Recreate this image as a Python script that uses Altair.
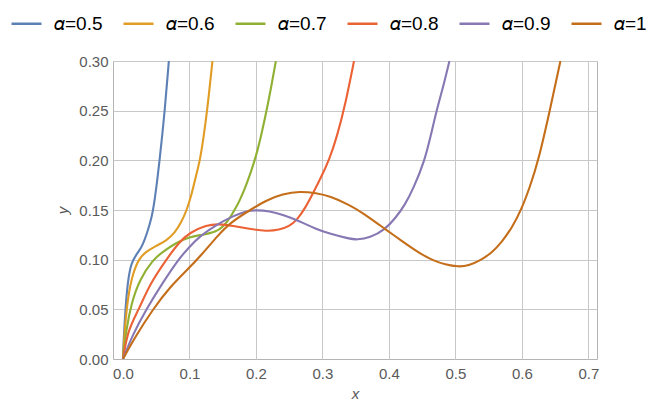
import altair as alt
import pandas as pd

labels = ["𝛼=0.5", "𝛼=0.6", "𝛼=0.7", "𝛼=0.8", "𝛼=0.9", "𝛼=1"]
colors = ["#5E81B5", "#E19C24", "#8FB032", "#EB6235", "#8778B3", "#C56E1A"]

x05 = [0, 0.001, 0.0036, 0.0075, 0.0126, 0.020, 0.0277, 0.0327, 0.0377, 0.043, 0.0475, 0.055, 0.0628, 0.069]
y05 = [0, 0.019, 0.050, 0.080, 0.097, 0.105, 0.112, 0.120, 0.130, 0.142, 0.158, 0.199, 0.249, 0.300]

x06 = [0, 0.0026, 0.0075, 0.015, 0.025, 0.035, 0.050, 0.065, 0.078, 0.088, 0.096, 0.103, 0.110, 0.1155, 0.121, 0.1265, 0.1346]
y06 = [0, 0.030, 0.063, 0.087, 0.102, 0.108, 0.114, 0.119, 0.127, 0.138, 0.150, 0.165, 0.185, 0.199, 0.222, 0.249, 0.300]

x07 = [0, 0.005, 0.0126, 0.025, 0.045, 0.060, 0.080, 0.100, 0.120, 0.140, 0.150, 0.160, 0.168, 0.176, 0.186, 0.198, 0.207, 0.216, 0.223, 0.230]
y07 = [0, 0.030, 0.056, 0.080, 0.100, 0.108, 0.117, 0.123, 0.125, 0.128, 0.133, 0.141, 0.150, 0.160, 0.176, 0.199, 0.222, 0.250, 0.274, 0.300]

x08 = [0, 0.0075, 0.024, 0.040, 0.065, 0.085, 0.100, 0.1256, 0.1456, 0.165, 0.190, 0.216, 0.235, 0.250, 0.262, 0.275, 0.286, 0.298, 0.310, 0.322, 0.335, 0.3475]
y08 = [0, 0.0295, 0.050, 0.075, 0.100, 0.118, 0.127, 0.135, 0.136, 0.134, 0.131, 0.1285, 0.130, 0.1335, 0.140, 0.153, 0.167, 0.183, 0.200, 0.224, 0.258, 0.300]

x09 = [0, 0.015, 0.035, 0.060, 0.083, 0.100, 0.1155, 0.140, 0.1657, 0.185, 0.201, 0.220, 0.241, 0.266, 0.290, 0.311, 0.341, 0.3515, 0.3715, 0.394, 0.410, 0.424, 0.437, 0.454, 0.463, 0.472, 0.482, 0.491]
y09 = [0, 0.025, 0.050, 0.077, 0.100, 0.113, 0.1235, 0.135, 0.144, 0.149, 0.150, 0.149, 0.145, 0.1386, 0.131, 0.126, 0.121, 0.120, 0.122, 0.130, 0.142, 0.155, 0.172, 0.200, 0.225, 0.251, 0.275, 0.300]

x10 = [0, 0.020, 0.045, 0.070, 0.100, 0.1155, 0.145, 0.161, 0.191, 0.216, 0.240, 0.266, 0.291, 0.311, 0.341, 0.361, 0.394, 0.417, 0.447, 0.467, 0.4845, 0.5045, 0.520, 0.537, 0.555, 0.570, 0.585, 0.599, 0.612, 0.625, 0.642, 0.658]
y10 = [0, 0.024, 0.050, 0.072, 0.092, 0.103, 0.126, 0.137, 0.150, 0.160, 0.166, 0.169, 0.167, 0.164, 0.155, 0.147, 0.131, 0.120, 0.106, 0.099, 0.095, 0.0927, 0.094, 0.099, 0.107, 0.118, 0.132, 0.150, 0.173, 0.200, 0.250, 0.300]

x_ticks = [0.0, 0.1, 0.2, 0.3, 0.4, 0.5, 0.6, 0.7]
y_ticks = [0.0, 0.05, 0.10, 0.15, 0.20, 0.25, 0.30]

series = [(x05, y05), (x06, y06), (x07, y07), (x08, y08), (x09, y09), (x10, y10)]
rows = []
for i, (xs, ys) in enumerate(series):
    for j, (a, b) in enumerate(zip(xs, ys)):
        rows.append({"x": a, "y": b, "series": labels[i], "k": i, "o": j})
df = pd.DataFrame(rows)

grid_color = {"condition": {"test": "datum.value === 0", "value": "transparent"}, "value": "#c8c8c8"}

chart = alt.Chart(df).mark_line(strokeWidth=2.1, interpolate="basis", clip=True).encode(
    x=alt.X("x:Q",
            scale=alt.Scale(domain=[-0.015, 0.713], nice=False, zero=False),
            axis=alt.Axis(values=x_ticks, format=".1f", title="x", grid=True, gridColor=grid_color,
                          domain=False, ticks=False, labelPadding=7, titlePadding=5,
                          titleFontStyle="italic", titleFontWeight="normal")),
    y=alt.Y("y:Q",
            scale=alt.Scale(domain=[0, 0.3], nice=False),
            axis=alt.Axis(values=y_ticks, format=".2f", title="y", grid=True, gridColor=grid_color,
                          domain=False, ticks=False, labelPadding=5, titlePadding=8,
                          titleFontStyle="italic", titleFontWeight="normal")),
    color=alt.Color("series:N",
                    scale=alt.Scale(domain=labels, range=colors),
                    sort=labels,
                    legend=alt.Legend(title=None, orient="none", legendX=-103, legendY=-54,
                                      direction="horizontal", symbolType="stroke", symbolSize=900,
                                      symbolStrokeWidth=2.5, labelFontSize=19, labelOffset=11,
                                      columnPadding=15, labelColor="#000000",
                                      labelFont="Liberation Sans", padding=0)),
    order=alt.Order("o:Q"),
    detail="k:N",
).properties(
    width=484, height=298,
    background="white",
    autosize=alt.AutoSizeParams(type="none"),
    padding={"left": 113, "top": 61, "right": 49, "bottom": 44},
).configure_view(
    stroke="#b4b4b4", strokeWidth=1
).configure_axis(
    labelFont="Liberation Sans", labelFontSize=15, labelColor="#5a5a5a",
    titleFont="Liberation Sans", titleFontSize=15, titleColor="#5a5a5a",
    gridWidth=1,
)

chart.save("out.html", embed_options={"renderer": "svg", "actions": False})
